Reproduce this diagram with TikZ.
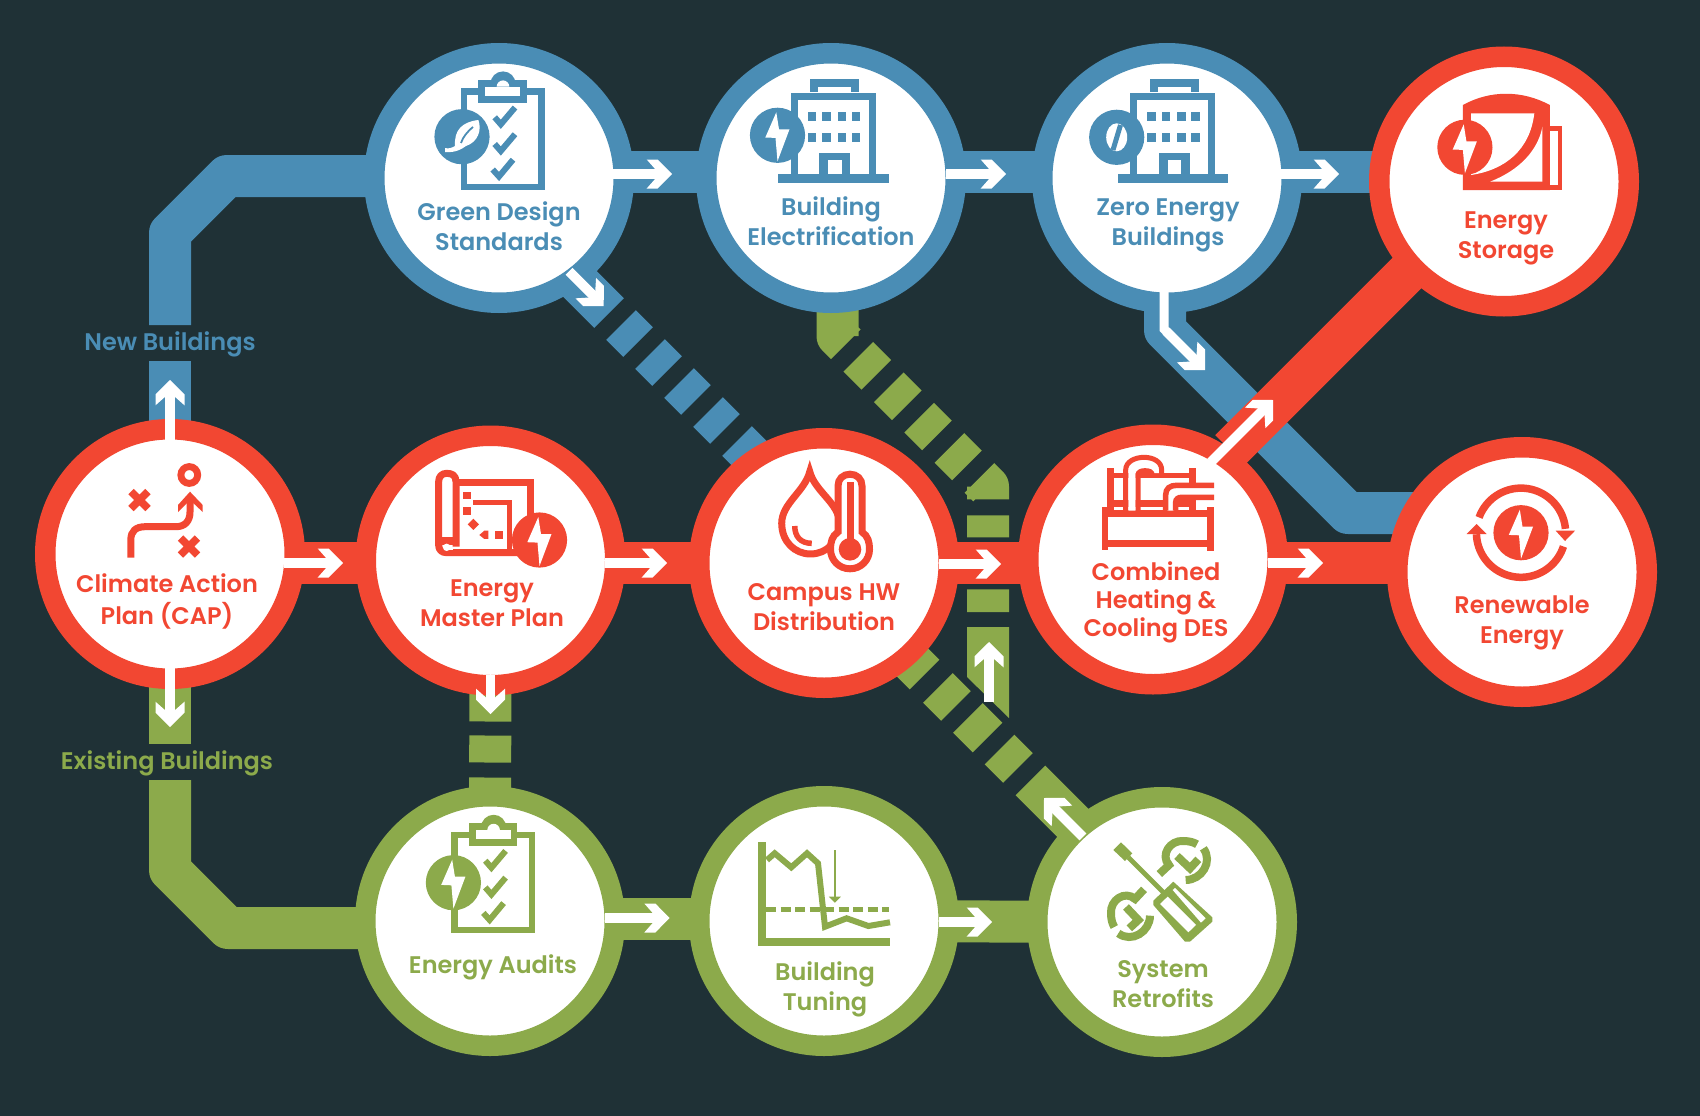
\documentclass[tikz,border=0pt]{standalone}
\usepackage{fontspec}
\setmainfont{Poppins}[UprightFont=* SemiBold]
\pgfdeclarelayer{bgl}\pgfdeclarelayer{conn}
\pgfsetlayers{bgl,conn,main}
\definecolor{bgc}{HTML}{1F3136}
\definecolor{bluec}{HTML}{4A8DB5}
\definecolor{redc}{HTML}{F24732}
\definecolor{greenc}{HTML}{8CAA4B}
\newcommand{\sline}[1]{\strut #1}
\tikzset{
  hub/.style={circle,minimum size=249.5pt,inner sep=0pt,line width=20.5pt,fill=white,draw=#1},
  lbl/.style={text=#1,font=\fontsize{24}{30}\selectfont,align=center,inner sep=0pt},
  bar/.style={draw=#1,line width=42pt,line join=round},
  ln/.style={draw=#1,line join=miter}
}
% tip x, tip y, canvas angle, shaft length
\newcommand{\whitearrow}[4]{%
  \begin{scope}[shift={(#1,#2)},rotate=#3]
    \fill[white] (-#4,-4.85) rectangle (-7,4.85);
    \fill[white] (0,0) -- (-14.3,14.5) -- (-25.3,14.5) -- (-12.5,0) -- (-25.3,-14.5) -- (-14.3,-14.5) -- cycle;
  \end{scope}}
\newcommand{\boltdisc}[3]{%
  \begin{scope}[shift={(#1,#2)}]
    \fill[#3] (0,0) circle[radius=27.6pt];
    \fill[white] (-1.2,-23) -- (-12.2,2.2) -- (-2,2.6) -- (0,26) -- (12,-6) -- (1.5,-6) -- cycle;
  \end{scope}}
\newcommand{\clipboardicon}[3]{%
  \begin{scope}[shift={(#1,#2)},#3]
    \draw[line width=6.5pt,#3] (464,91.5) rectangle (541.3,186.8);
    \fill (503,84) circle[radius=12.6pt];
    \fill (478.4,80) rectangle (526.5,103);
    \fill[white] (485,86.7) rectangle (520,96);
    \fill[white] (509.3,86.7) arc[start angle=0,end angle=180,radius=6.3pt] -- cycle;
    \draw[line width=6pt,#3] (494.7,117.3) -- (500.8,124.3) -- (515,107.5);
    \draw[line width=6pt,#3] (494.7,144) -- (500.8,151) -- (515,134.2);
    \draw[line width=6pt,#3] (492.7,169.5) -- (499,176.5) -- (513,159.7);
  \end{scope}}
\newcommand{\buildingicon}[1]{%
  \begin{scope}[shift={(#1,0)},bluec]
    \fill (778,174) rectangle (888.6,182.7);
    \draw[line width=7pt,bluec] (794,174) -- (794,96) -- (872,96) -- (872,174);
    \fill (810,79) rectangle (859,92.3);
    \fill[white] (818.4,86.7) rectangle (851,92.3);
    \foreach \wx in {807.7,822.4,837.6,851.8}{
      \fill (\wx,111.7) rectangle ++(8.4,9);
      \fill (\wx,132.7) rectangle ++(8.4,9);}
    \fill (819,152.7) rectangle (850,174);
    \fill[white] (828,160) rectangle (841.6,174);
  \end{scope}}
\begin{document}
\begin{tikzpicture}[x=1pt,y=-1pt]
\useasboundingbox (0,0) rectangle (1700,1116);
\begin{pgfonlayer}{bgl}
\fill[bgc] (0,0) rectangle (1700,1116);
\end{pgfonlayer}

% hubs
\node[hub=bluec] (design) at (499,178) {};
\node[hub=bluec] (elec) at (831,178) {};
\node[hub=bluec] (zero) at (1167,178) {};
\node[hub=redc] (storage) at (1504,181.5) {};
\node[hub=redc] (climate) at (170,554) {};
\node[hub=redc] (master) at (490.5,560.5) {};
\node[hub=redc] (campus) at (824,563) {};
\node[hub=redc] (combined) at (1153,559.5) {};
\node[hub=redc] (renew) at (1522,572) {};
\node[hub=greenc] (audits) at (490,921) {};
\node[hub=greenc] (tuning) at (824,921) {};
\node[hub=greenc] (retro) at (1162,922) {};

% waypoints
\coordinate (nb1) at (227,176);
\coordinate (nb2) at (170,233);
\coordinate (nb3) at (170,325);
\coordinate (nb4) at (170,361);
\coordinate (eb1) at (170,744);
\coordinate (eb2) at (170,780);
\coordinate (eb3) at (170,870);
\coordinate (eb4) at (228,928);
\coordinate (ds1) at (540,244);
\coordinate (ds2) at (790,494);
\coordinate (zr1) at (1165,330);
\coordinate (zr2) at (1348,513);
\coordinate (eg1) at (837.5,336);
\coordinate (eg2) at (988,486.5);
\coordinate (eg3) at (988,612);
\coordinate (cr1) at (875,625);
\coordinate (cr2) at (1100,850);
\coordinate (st1) at (1230,450);
\coordinate (st2) at (1450,230);

\begin{pgfonlayer}{conn}
% blue
\draw[bar=bluec] ([yshift=2pt]design.center) -- (nb1) -- (nb2) -- (nb3);
\draw[bar=bluec] (nb4) -- (climate.center);
\draw[bar=bluec] ([yshift=6pt]design.center) -- ([yshift=6pt]elec.center);
\draw[bar=bluec] ([yshift=6pt]elec.center) -- ([yshift=6pt]zero.center);
\draw[bar=bluec] ([yshift=6pt]zero.center) -- ([yshift=9.5pt]storage.center);
\draw[bar=bluec] ([xshift=-2pt]zero.center) -- (zr1) -- (zr2) -- ([yshift=59pt]renew.center);
\draw[bar=bluec,dash pattern=on 97.6pt off 17pt on 24pt off 17pt on 24pt off 17pt on 24pt off 17pt on 24pt off 17pt on 200pt] (ds1) -- (ds2);
% green
\draw[bar=greenc] (climate.center) -- (eb1);
\draw[bar=greenc] (eb2) -- (eb3) -- (eb4) -- ([yshift=-7pt]audits.center);
\draw[bar=greenc] ([yshift=2pt]audits.center) -- ([yshift=2pt]tuning.center);
\draw[bar=greenc] ([yshift=0pt]tuning.center) -- ([yshift=0pt]retro.center);
\draw[bar=greenc,dash pattern=on 161pt off 14pt on 27pt off 15pt on 200pt] (master.center) -- (audits.center);
\draw[bar=greenc,dash pattern=on 169.7pt off 17.7pt on 25.5pt off 17.7pt on 25.5pt off 17.5pt on 25pt off 17.7pt on 24.7pt off 17.7pt on 24.9pt off 16pt on 22pt off 52pt on 23pt off 200pt] ([xshift=6.5pt]elec.center) -- (eg1) -- (eg2) -- (eg3);
\fill[greenc] (967,627) -- (1009,627) -- (1009,718) -- (967,677) -- cycle;
\draw[bar=greenc,dash pattern=on 70pt off 19pt on 25.5pt off 17pt on 27.6pt off 17pt on 26pt off 17.7pt on 200pt] (cr1) -- (cr2);
% red
\draw[bar=redc] ([yshift=-9pt]climate.center) -- ([yshift=-2.5pt]master.center);
\draw[bar=redc] ([yshift=-2.5pt]master.center) -- (campus.center);
\draw[bar=redc] (campus.center) -- ([yshift=-3.5pt]combined.center);
\draw[bar=redc] ([yshift=-3.5pt]combined.center) -- ([yshift=9pt]renew.center);
\draw[bar=redc] (st1) -- (st2);
\end{pgfonlayer}

% white arrows
\whitearrow{672}{174}{0}{59}
\whitearrow{1006}{174}{0}{60}
\whitearrow{1339}{174}{0}{58}
\whitearrow{343}{563}{0}{59}
\whitearrow{667}{563}{0}{62}
\whitearrow{1001}{564}{0}{62}
\whitearrow{1323}{563}{0}{55}
\whitearrow{669.6}{918}{0}{65}
\whitearrow{992}{922}{0}{53}
\whitearrow{170}{380}{90}{60}
\whitearrow{170}{727}{-90}{59}
\whitearrow{490.5}{714}{-90}{39}
\whitearrow{603.7}{306}{-45}{49}
\whitearrow{989}{642}{90}{60}
\whitearrow{1044}{798}{135}{55}
\whitearrow{1273}{400}{45}{88}
\whitearrow{1205}{370}{-45}{55}
\draw[white,line width=9pt,line join=miter] (1164,291) -- (1164,329) -- (1172,337);

% Green Design icon
\clipboardicon{0}{0}{bluec}
\fill[bluec] (462,136.7) circle[radius=27.6pt];
\fill[white] (478.4,120) .. controls (462,122) and (454,130) .. (455,146) .. controls (452,148) and (448,149) .. (445,148) -- (445,152) .. controls (455,153) and (462,149) .. (466,146) .. controls (478,142) and (482,130) .. (478.4,120) -- cycle;
\draw[bluec,line width=1.8pt] (473,127) .. controls (467,132) and (463,137) .. (461,143);

% Electrification icon
\buildingicon{0}
\boltdisc{777.5}{135.3}{bluec}

% Zero icon
\buildingicon{339.6}
\fill[bluec] (1116.7,137.3) circle[radius=27.6pt];
\fill[white] (1116.7,137.3) ellipse[x radius=10.5pt,y radius=14pt];
\draw[bluec,line width=5pt] (1113,150) -- (1120.5,125);

% Storage icon
\fill[redc] (1462.9,105) .. controls (1490,90) and (1522,90) .. (1549.8,105) -- (1549.8,190) -- (1462.9,190) -- cycle;
\fill[white] (1471,113.3) -- (1534.3,113.3) .. controls (1530,150) and (1505,170) .. (1471,175) -- cycle;
\fill[white] (1542.4,126.7) -- (1542.4,181.7) -- (1490,181.7) .. controls (1520,170) and (1538,150) .. (1542.4,126.7) -- cycle;
\draw[ln=redc,line width=4.5pt] (1549.8,128.5) -- (1560,128.5) -- (1560,190);
\fill[redc] (1549.8,185) rectangle (1562,190);
\boltdisc{1464.9}{147.3}{redc}

% Climate icon
\draw[ln=redc,line width=7.5pt] (131,491.5) -- (148,508.5) (148,491.5) -- (131,508.5);
\draw[ln=redc,line width=7.5pt] (180.5,538) -- (197.5,555) (197.5,538) -- (180.5,555);
\draw[redc,line width=6.9pt] (189.3,475) circle[radius=8.4pt];
\draw[redc,line width=7pt] (130.8,557.5) -- (130.8,540) .. controls (130.8,531) and (136,526.7) .. (145,526.7) -- (176,526.7) .. controls (185,526.7) and (190,521) .. (190,512) -- (190,497);
\fill[redc] (190,491.7) -- (202.7,505) -- (202.7,512) -- (190,500) -- (178,512) -- (178,505) -- cycle;

% Master icon
\begin{scope}[shift={(430,465)},x=.3333pt,y=-.3333pt]
\draw[redc,line width=7pt,line join=miter] (78,52) -- (302,52) -- (302,170);
\draw[redc,line width=7pt,line join=round] (78,245) -- (78,50) .. controls (78,30) and (65,25) .. (50,25) .. controls (35,25) and (26,35) .. (26,50) -- (26,240) .. controls (26,255) and (35,263) .. (50,263) -- (262,263);
\fill[redc] (26,215) rectangle (78,240);
\fill[white] (50,247) circle[radius=3.7pt];
\fill[white] (50,247) rectangle (68,254);
\fill[redc] (100,80) rectangle (123,102);
\fill[redc] (100,127) rectangle (123,150);
\fill[redc] (130,161) -- (147,178) -- (130,195) -- (113,178) -- cycle;
\fill[redc] (148,210) -- (163,197) -- (175,197) -- (175,222) -- (163,222) -- cycle;
\fill[redc] (195,198) rectangle (218,222);
\draw[redc,line width=5pt,line join=miter] (130,113) -- (238,113) -- (238,255);
\end{scope}
\boltdisc{539.5}{540}{redc}

% Campus icon
\begin{scope}[shift={(690,420)},x=.3953pt,y=-.3333pt]
\draw[redc,line width=7pt,line join=miter,miter limit=10] (303,155) .. controls (290,215) and (232,250) .. (232,310) .. controls (232,365) and (265,402) .. (305,402) .. controls (345,402) and (378,365) .. (378,310) .. controls (378,250) and (316,215) .. (303,155) -- cycle;
\draw[redc,line width=5.5pt] (265,318) .. controls (265,350) and (280,370) .. (308,370);
\end{scope}
\draw[redc,line width=7pt,fill=white] (838,532) -- (838,486) .. controls (838,479) and (843,474.2) .. (850,474.2) .. controls (857,474.2) and (862,479) .. (862,486) -- (862,532) .. controls (868,536) and (869.5,542) .. (869.5,549.3) .. controls (869.5,560) and (861,568.8) .. (850,568.8) .. controls (839,568.8) and (830.5,560) .. (830.5,549.3) .. controls (830.5,542) and (832,536) .. (838,532) -- cycle;
\fill[redc] (846.5,482) rectangle (853.5,545);
\fill[redc] (850,549.3) circle[radius=11.3pt];

% Combined icon
\begin{scope}[shift={(1095,445)},x=.3333pt,y=-.3333pt]
\fill[redc] (20,187) rectangle (40,315);
\fill[redc] (336,187) rectangle (357,318);
\fill[redc] (20,195) rectangle (357,217);
\fill[redc] (20,285) rectangle (357,305);
\fill[redc] (37,70) rectangle (58,195);
\fill[redc] (283,70) rectangle (303,120);
\fill[redc] (283,155) rectangle (303,195);
\fill[redc] (37,85) rectangle (303,100);
\fill[redc] (37,165) rectangle (303,185);
\fill[white] (58,186) rectangle (85,193);
\fill[white] (138,186) rectangle (203,193);
\fill[white] (255,186) rectangle (283,193);
\draw[white,line width=7.3pt] (111,197) -- (111,80) .. controls (111,60) and (130,55) .. (150,55) .. controls (172,55) and (186,65) .. (186,82) -- (186,84);
\draw[redc,line width=5pt] (92,197) -- (92,75) .. controls (92,50) and (120,37) .. (147,37) .. controls (175,37) and (200,50) .. (200,75) -- (200,92);
\draw[redc,line width=5pt] (129,197) -- (129,90) .. controls (129,80) and (140,77) .. (150,77) .. controls (162,77) and (172,80) .. (172,92);
\draw[white,line width=7pt] (227,197) -- (227,165) .. controls (227,148) and (238,139) .. (255,139) -- (357,139);
\draw[redc,line width=5.5pt] (212,197) -- (212,150) .. controls (212,130) and (225,121) .. (245,121) -- (357,121);
\draw[redc,line width=5.5pt] (242,197) -- (242,172) .. controls (242,162) and (250,157) .. (260,157) -- (357,157);
\end{scope}

% Renewable icon
\boltdisc{1521}{532.7}{redc}
\draw[redc,line width=7.5pt] plot[domain=160:5,samples=40] ({1521+44.6*cos(\x)},{532.7-44.6*sin(\x)});
\draw[redc,line width=7.5pt] plot[domain=-18:-178,samples=40] ({1521+44.6*cos(\x)},{532.7-44.6*sin(\x)});
\fill[redc] (1555.7,530.7) -- (1575,530.7) -- (1565,541) -- cycle;
\fill[redc] (1466.7,534) -- (1486.7,534) -- (1476.7,524) -- cycle;

% Audits icon
\clipboardicon{-9.4}{743.4}{greenc}
\boltdisc{453.4}{882.7}{greenc}

% Tuning icon
\fill[greenc] (757.7,841.7) rectangle (766.4,945.7);
\fill[greenc] (757.7,938.3) rectangle (890,945.7);
\draw[greenc,line width=6pt,line join=miter] (767,860) -- (774.7,853.3) -- (791.3,867.3) -- (807,853.3) -- (818,863.3) -- (825,926.7) -- (846.6,918.3) -- (868.4,926) -- (890,922.3);
\draw[greenc,line width=4.5pt,dash pattern=on 10pt off 4.5pt] (766,909.3) -- (889,909.3);
\draw[greenc,line width=2.5pt] (834.8,850) -- (834.8,897);
\fill[greenc] (828.8,896.7) -- (840.8,896.7) -- (834.8,902.7) -- cycle;

% Retrofits icon
\begin{scope}[shift={(1095,830)},x=.3333pt,y=-.3333pt]
\fill[greenc] (55,60) -- (78,37) -- (112,70) -- (90,93) -- cycle;
\draw[greenc,line width=4.7pt] (100,82) -- (205,187);
\fill[greenc] (235,155) -- (352,262) -- (352,275) -- (285,335) -- (270,335) -- (175,225) -- (175,212) -- cycle;
\fill[white] (195,222) -- (218,200) -- (303,285) -- (280,307) -- cycle;
\fill[white] (233,180) -- (240,174) -- (332,265) -- (318,278) -- cycle;
\draw[greenc,line width=8pt] (193,132) -- (222,105) .. controls (195,75) and (225,30) .. (265,33) .. controls (285,33) and (298,38) .. (306,43);
\draw[greenc,line width=8pt,line join=miter] (246,78) -- (285,115) -- (310,88);
\draw[greenc,line width=8pt] (272,150) .. controls (320,150) and (355,95) .. (325,55);
\draw[greenc,line width=8pt] (147,178) -- (120,207) .. controls (90,180) and (45,210) .. (48,250) .. controls (48,270) and (53,283) .. (58,291);
\draw[greenc,line width=8pt,line join=miter] (93,231) -- (130,270) -- (103,295);
\draw[greenc,line width=8pt] (165,257) .. controls (165,305) and (110,340) .. (70,310);
\end{scope}

% labels
\node[lbl=bluec] (tdesign) at (499,229.5) {\sline{Green Design}\\\sline{Standards}};
\node[lbl=bluec] (telec) at (831,224.5) {\sline{Building}\\\sline{Electrification}};
\node[lbl=bluec] (tzero) at (1168,224.5) {\sline{Zero Energy}\\\sline{Buildings}};
\node[lbl=redc] (tstorage) at (1506,237.5) {\sline{Energy}\\\sline{Storage}};
\node[lbl=redc] (tclimate) at (167,602.5) {\sline{Climate Action}\\\sline{Plan (CAP)}};
\node[lbl=redc] (tmaster) at (492,605.5) {\sline{Energy}\\\sline{Master Plan}};
\node[lbl=redc] (tcampus) at (824,609.5) {\sline{Campus HW}\\\sline{Distribution}};
\node[lbl=redc] (tcombined) at (1156,602.5) {\sline{Combined}\\[-2pt]\sline{Heating \&}\\[-2pt]\sline{Cooling DES}};
\node[lbl=redc] (trenew) at (1522,622.5) {\sline{Renewable}\\\sline{Energy}};
\node[lbl=greenc] (taudits) at (493,967.5) {\sline{Energy Audits}};
\node[lbl=greenc] (ttuning) at (825,989.5) {\sline{Building}\\\sline{Tuning}};
\node[lbl=greenc] (tretro) at (1163,986.5) {\sline{System}\\\sline{Retrofits}};
\node[lbl=bluec] (tnew) at (170,344) {\sline{New Buildings}};
\node[lbl=greenc] (texist) at (167,763.5) {\sline{Existing Buildings}};
\end{tikzpicture}
\end{document}
